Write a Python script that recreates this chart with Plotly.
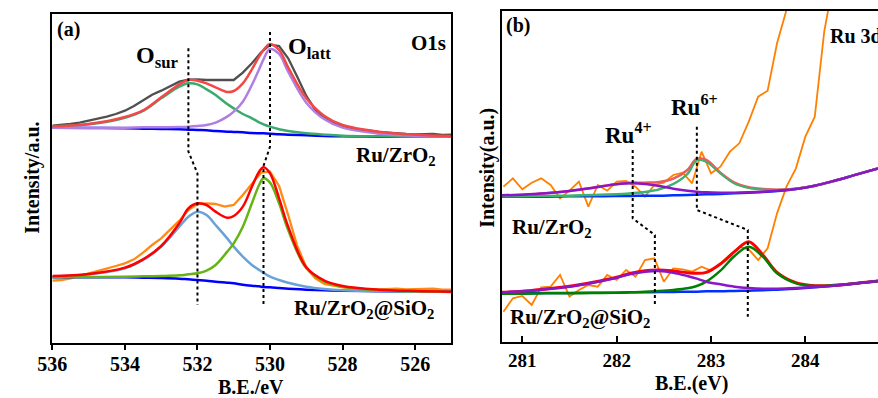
import plotly.graph_objects as go

# ---------------- Panel (a): O1s ----------------
xa_fit = [536, 535, 534, 533.5, 533, 532.5, 532.25, 532, 531.75, 531.5, 531.18, 531,
          530.75, 530.5, 530.3, 530.18, 530, 529.75, 529.5, 529, 528.5, 528, 527, 526, 525]

# Ru/ZrO2 (upper)
a1_base = [707, 706, 705, 704, 703, 702, 701, 700, 699, 697, 695, 694, 693, 691, 690, 690, 689, 687, 686, 684, 682, 681, 680, 680, 680]
a1_osur = [710, 717, 737, 757, 795, 830, 840, 837, 822, 805, 778, 765, 748, 735, 723, 717, 710, 702, 697, 690, 686, 683, 681, 680, 680]
a1_olatt = [707, 707, 707, 708, 708, 709, 710, 712, 715, 722, 740, 755, 785, 835, 882, 912, 943, 928, 875, 782, 732, 707, 689, 683, 681]
a1_env = [711, 718, 739, 759, 798, 837, 850, 848, 840, 828, 814, 817, 840, 882, 920, 940, 958, 940, 888, 795, 742, 715, 695, 686, 682]

# Ru/ZrO2@SiO2 (lower)
a2_base = [258, 258, 258, 257, 256, 254, 252, 250, 248, 245, 242, 240, 236, 233, 231, 229, 228, 226, 224, 221, 219, 218, 216, 215, 215]
a2_osur = [260, 267, 285, 310, 350, 410, 440, 455, 445, 415, 375, 350, 320, 295, 280, 272, 260, 250, 242, 230, 223, 219, 216, 215, 215]
a2_olatt = [258, 259, 260, 261, 262, 264, 267, 270, 278, 295, 335, 360, 410, 480, 535, 555, 542, 480, 400, 285, 245, 230, 219, 216, 214]
a2_env = [262, 268, 287, 312, 352, 420, 465, 480, 475, 455, 437, 442, 470, 530, 575, 588, 570, 495, 410, 288, 248, 232, 221, 217, 215]

xa_raw = [536, 535.75, 535.5, 535.25, 535, 534.75, 534.5, 534.25, 534, 533.75, 533.5, 533.25, 533,
          532.75, 532.5, 532.25, 532, 531.75, 531.5, 531.25, 531, 530.75, 530.5, 530.25, 530,
          529.75, 529.5, 529.25, 529, 528.75, 528.5, 528.25, 528, 527.75, 527.5, 527.25, 527,
          526.75, 526.5, 526.25, 526, 525.75, 525.5, 525.25, 525]
a1_raw = [713, 715, 718, 722, 728, 732, 740, 748, 758, 772, 788, 806, 818, 832, 845, 851, 852, 850, 850, 848, 850,
          872, 900, 932, 956, 952, 915, 860, 802, 760, 735, 720, 710, 704, 700, 697, 694, 692, 689, 688, 687, 687, 688, 685, 686]
a2_raw = [248, 250, 255, 262, 270, 278, 285, 292, 300, 312, 332, 355, 375, 400, 428, 460, 478, 480, 478, 470, 475,
          505, 538, 572, 575, 532, 445, 352, 288, 255, 238, 232, 228, 225, 223, 222, 222, 223, 224, 222, 223, 222, 224, 221, 221]

# guide lines (a)
osur_gx = [532.25, 532.25, 532.0, 532.0]
osur_gy = [945, 635, 570, 175]
olatt_gx = [530.0, 530.0, 530.18, 530.18]
olatt_gy = [994, 650, 592, 170]

# ---------------- Panel (b): Ru 3d ----------------
xb_fit = [280.78, 281, 281.25, 281.5, 281.75, 282, 282.15, 282.3, 282.45, 282.6, 282.75, 282.85,
          282.95, 283.1, 283.25, 283.4, 283.55, 283.7, 283.9, 284.1, 284.3, 284.5, 284.77]

b1_base = [510, 510, 510, 511, 511, 512, 512, 513, 513, 514, 515, 516, 517, 518, 520, 522, 524, 527, 533, 543, 557, 573, 595]
b1_ru4 = [514, 516, 520, 527, 537, 547, 550, 548, 542, 534, 528, 525, 523, 522, 522, 523, 525, 528, 533, 543, 557, 573, 595]
b1_ru6 = [511, 511, 512, 513, 515, 517, 520, 524, 532, 548, 578, 620, 615, 580, 550, 537, 532, 530, 534, 543, 557, 573, 595]
b1_env = [514, 516, 520, 527, 537, 548, 552, 552, 554, 564, 590, 624, 620, 582, 552, 538, 533, 531, 534, 543, 557, 573, 595]

b2_base = [220, 220, 221, 221, 222, 222, 223, 223, 224, 224, 225, 225, 226, 226, 227, 228, 229, 231, 234, 238, 243, 249, 257]
b2_ru4 = [223, 226, 232, 240, 252, 267, 278, 285, 287, 282, 272, 264, 255, 247, 240, 236, 234, 234, 236, 239, 243, 249, 257]
b2_ru6 = [219, 219, 220, 220, 221, 222, 223, 225, 227, 230, 235, 242, 255, 288, 332, 360, 330, 280, 250, 242, 244, 249, 257]
b2_env = [223, 226, 233, 241, 253, 268, 280, 288, 290, 287, 282, 280, 283, 308, 345, 375, 335, 283, 252, 243, 244, 249, 257]

xb1_raw = [280.8, 280.9, 281.0, 281.1, 281.2, 281.3, 281.4, 281.5, 281.6, 281.7, 281.8, 281.9, 282.0,
           282.1, 282.2, 282.3, 282.4, 282.5, 282.6, 282.7, 282.8, 282.9, 283.0, 283.1, 283.2,
           283.3, 283.4, 283.5, 283.6, 283.7, 283.8, 283.9]
b1_raw = [540, 565, 532, 552, 565, 545, 505, 528, 555, 480, 545, 528, 555, 557, 540, 510, 545, 552, 575,
          582, 550, 645, 580, 600, 645, 670, 735, 810, 828, 970, 1070, 1200]

xb2_raw = [280.8, 280.9, 281.0, 281.1, 281.2, 281.3, 281.4, 281.5, 281.6, 281.7, 281.8, 281.9, 282.0,
           282.1, 282.2, 282.3, 282.4, 282.5, 282.6, 282.7, 282.8, 282.9, 283.0, 283.1, 283.2,
           283.3, 283.4, 283.5, 283.6, 283.7, 283.8, 283.9, 284.0, 284.1, 284.2, 284.3]
b2_raw = [165, 205, 212, 185, 238, 240, 275, 210, 230, 245, 240, 275, 260, 290, 270, 320, 325, 255, 295,
          292, 285, 300, 288, 310, 335, 360, 352, 320, 355, 460, 540, 595, 690, 750, 1005, 1160]

ru4_gx = [282.17, 282.17, 282.405, 282.405]
ru4_gy = [650, 445, 395, 185]
ru6_gx = [282.85, 282.85, 283.39, 283.39]
ru6_gy = [720, 470, 410, 150]

W, H = 878, 398
FONT = "Liberation Serif"

fig = go.Figure()


def line(x, y, color, width=2.5, shape="spline", xa="x", ya="y", dash=None):
    fig.add_trace(go.Scatter(x=x, y=y, mode="lines", xaxis=xa, yaxis=ya,
                             line=dict(color=color, width=width, shape=shape, dash=dash),
                             hoverinfo="skip", showlegend=False))


# panel a upper
line(xa_raw, a1_raw, "#505050", 2.3, "linear")
line(xa_fit, a1_base, "#0000ff")
line(xa_fit, a1_osur, "#3aaa6e")
line(xa_fit, a1_olatt, "#b07fe2")
line(xa_fit, a1_env, "#f24848")
# panel a lower
line(xa_raw, a2_raw, "#ff8a14", 2.3, "linear")
line(xa_fit, a2_base, "#0000ff")
line(xa_fit, a2_osur, "#6aa2d6")
line(xa_fit, a2_olatt, "#66b414")
line(xa_fit, a2_env, "#ff0000")
# guides a
line(osur_gx, osur_gy, "#000000", 2, "linear", dash="dot")
line(olatt_gx, olatt_gy, "#000000", 2, "linear", dash="dot")

# panel b
line(xb1_raw, b1_raw, "#ff8000", 1.8, "linear", "x2", "y2")
line(xb2_raw, b2_raw, "#ff8000", 1.8, "linear", "x2", "y2")
line(xb_fit, b1_base, "#0030ff", 2.5, xa="x2", ya="y2")
line(xb_fit, b1_ru6, "#3cb371", 2.5, xa="x2", ya="y2")
line(xb_fit, b1_env, "#f05a5a", 2.5, xa="x2", ya="y2")
line(xb_fit, b1_ru6, "#3cb371", 1.5, xa="x2", ya="y2")
line(xb_fit, b1_ru4, "#8a16c8", 2.5, xa="x2", ya="y2")
line(xb_fit, b2_base, "#0030ff", 2.5, xa="x2", ya="y2")
line(xb_fit, b2_env, "#ff0000", 3, xa="x2", ya="y2")
line(xb_fit, b2_ru6, "#008000", 2.5, xa="x2", ya="y2")
line(xb_fit, b2_ru4, "#8a16c8", 2.5, xa="x2", ya="y2")
line(ru4_gx, ru4_gy, "#000000", 2, "linear", "x2", "y2", dash="dot")
line(ru6_gx, ru6_gy, "#000000", 2, "linear", "x2", "y2", dash="dot")

tickfont = dict(family=FONT, size=20, color="black", weight="bold")
common = dict(showgrid=False, zeroline=False, showline=True, linecolor="black", linewidth=2)

fig.update_layout(
    width=W, height=H, margin=dict(l=0, r=0, t=0, b=0),
    paper_bgcolor="white", plot_bgcolor="white", showlegend=False,
    font=dict(family=FONT),
    xaxis=dict(domain=[38 / W, 444 / W], range=[536, 525], tickvals=[536, 534, 532, 530, 528, 526],
               ticks="outside", ticklen=5, tickwidth=2, tickcolor="black", mirror=True,
               ticklabelstandoff=-3, tickfont=tickfont, anchor="y", **common),
    yaxis=dict(domain=[1 - 343 / H, 1 - 14 / H], range=[61, 1048], showticklabels=False, ticks="",
               mirror=True, anchor="x", **common),
    xaxis2=dict(domain=[495 / W, 1.0], range=[280.78, 284.77], tickvals=[281, 282, 283, 284],
                ticks="inside", ticklen=6, tickwidth=2, tickcolor="black", mirror=True,
                tickfont=dict(family=FONT, size=19, color="black", weight="bold"), anchor="y2", **common),
    yaxis2=dict(domain=[1 - 342 / H, 1 - 11 / H], range=[74, 1067], showticklabels=False, ticks="",
                mirror=False, anchor="x2", **common),
)


def ann(text, px, py, size, angle=0, xanchor="center"):
    fig.add_annotation(text=text, x=px / W, y=1 - py / H, xref="paper", yref="paper",
                       xanchor=xanchor, yanchor="middle", showarrow=False, textangle=angle,
                       font=dict(family=FONT, size=size, color="black", weight="bold"))


ann("(a)", 54, 29, 20)
ann("O<sub>sur</sub>", 145, 57, 24)
ann("O<sub>latt</sub>", 300, 48, 24)
ann("O1s", 421, 43, 21)
ann("Ru/ZrO<sub>2</sub>", 388, 156, 21)
ann("Ru/ZrO<sub>2</sub>@SiO<sub>2</sub>", 355, 309, 21)
ann("B.E./eV", 240, 387, 20)
ann("Intensity/a.u.", 17, 178, 20, -90)

ann("(b)", 512, 26, 20)
ann("Ru 3d", 827, 36, 20, xanchor="left")
ann("Ru<sup>4+</sup>", 624, 133, 23)
ann("Ru<sup>6+</sup>", 691, 106, 23)
ann("Ru/ZrO<sub>2</sub>", 546, 228, 21)
ann("Ru/ZrO<sub>2</sub>@SiO<sub>2</sub>", 575, 318, 21)
ann("B.E.(eV)", 688, 383, 20)
ann("Intensity(a.u.)", 480, 168, 20, -90)

fig.write_html("out.html")
